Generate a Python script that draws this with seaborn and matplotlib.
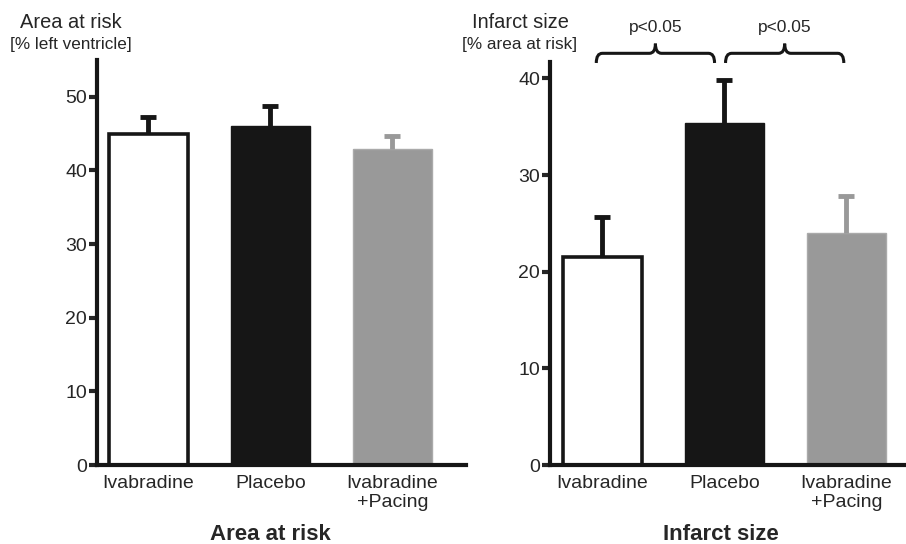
import numpy as np
import matplotlib.pyplot as plt
import seaborn as sns
from matplotlib.path import Path
from matplotlib.patches import PathPatch

# values (mean, upper SEM)
groups = ["Ivabradine", "Placebo", "Ivabradine\n+Pacing"]
aar_mean = [45.0, 46.0, 42.9]
aar_err = [2.2, 2.7, 1.7]
inf_mean = [21.5, 35.4, 24.0]
inf_err = [4.2, 4.4, 3.8]
bar_colors = ["#ffffff", "#161616", "#999999"]
err_colors = ["#161616", "#161616", "#999999"]

sns.set_style("ticks")
plt.rcParams["font.family"] = ["Liberation Sans", "DejaVu Sans"]
plt.rcParams["axes.linewidth"] = 3

fig = plt.figure(figsize=(9.06, 5.44), dpi=100)
ax1 = fig.add_axes([0.107, 0.145, 0.407, 0.745])
ax2 = fig.add_axes([0.607, 0.145, 0.393, 0.741])


def draw_panel(ax, means, errs, ymax, yticks):
    sns.barplot(x=groups, y=means, hue=groups, palette=bar_colors, legend=False,
                width=0.65, ax=ax, errorbar=None)
    for i, p in enumerate(ax.patches):
        if i == 0:
            p.set_edgecolor("#161616")
            p.set_linewidth(2.6)
        elif i == 2:
            p.set_edgecolor("#aaaaaa")
            p.set_linewidth(1)
        else:
            p.set_edgecolor("#161616")
            p.set_linewidth(1)
    for i in range(len(means)):
        eb = ax.errorbar(i, means[i], yerr=[[0], [errs[i]]], fmt="none",
                         ecolor=err_colors[i], elinewidth=3.5, capsize=5.5, capthick=3.5)
        # keep only the upper cap
        eb[1][0].set_visible(False)
    ax.set_ylim(0, ymax)
    ax.set_yticks(yticks)
    ax.set_xlim(-0.42, 2.6)
    ax.tick_params(axis="y", length=6, width=3, pad=1, labelsize=14)
    ax.tick_params(axis="x", length=0, pad=7, labelsize=14)
    for s in ["top", "right"]:
        ax.spines[s].set_visible(False)
    for s in ["left", "bottom"]:
        ax.spines[s].set_color("#161616")
    ax.set_xlabel("")
    ax.set_ylabel("")


draw_panel(ax1, aar_mean, aar_err, 55, [0, 10, 20, 30, 40, 50])
draw_panel(ax2, inf_mean, inf_err, 41.7, [0, 10, 20, 30, 40])
ax2.set_xlim(-0.43, 2.49)


def brace(ax, x0, x1, yb, h, r=0.05):
    xm = (x0 + x1) / 2
    yl = yb + h
    yt = yl + h
    verts = [(x0, yb), (x0, yl), (x0 + r, yl), (xm - r, yl), (xm, yl), (xm, yt),
             (xm, yl), (xm + r, yl), (x1 - r, yl), (x1, yl), (x1, yb)]
    codes = [Path.MOVETO, Path.CURVE3, Path.CURVE3, Path.LINETO, Path.CURVE3, Path.CURVE3,
             Path.CURVE3, Path.CURVE3, Path.LINETO, Path.CURVE3, Path.CURVE3]
    ax.add_patch(PathPatch(Path(verts, codes), fill=False, lw=2.2,
                           edgecolor="#161616", clip_on=False))
    ax.text(xm, yt + 0.9, "p<0.05", ha="center", va="bottom", fontsize=12.5, clip_on=False)


brace(ax2, -0.05, 0.92, 41.6, 1.0)
brace(ax2, 1.01, 1.98, 41.6, 1.0)

# axis titles at the top
fig.text(71 / 906, 1 - 22 / 544, "Area at risk", ha="center", va="center", fontsize=14.4)
fig.text(71 / 906, 1 - 45 / 544, "[% left ventricle]", ha="center", va="center", fontsize=12.3)
fig.text(520 / 906, 1 - 22 / 544, "Infarct size", ha="center", va="center", fontsize=14.4)
fig.text(520 / 906, 1 - 45 / 544, "[% area at risk]", ha="center", va="center", fontsize=12.3)

# panel titles at the bottom
fig.text(270 / 906, 1 - 534 / 544, "Area at risk", ha="center", va="center",
         fontsize=16, fontweight="bold")
fig.text(721 / 906, 1 - 534 / 544, "Infarct size", ha="center", va="center",
         fontsize=16, fontweight="bold")

fig.savefig("out.png", dpi=100)
